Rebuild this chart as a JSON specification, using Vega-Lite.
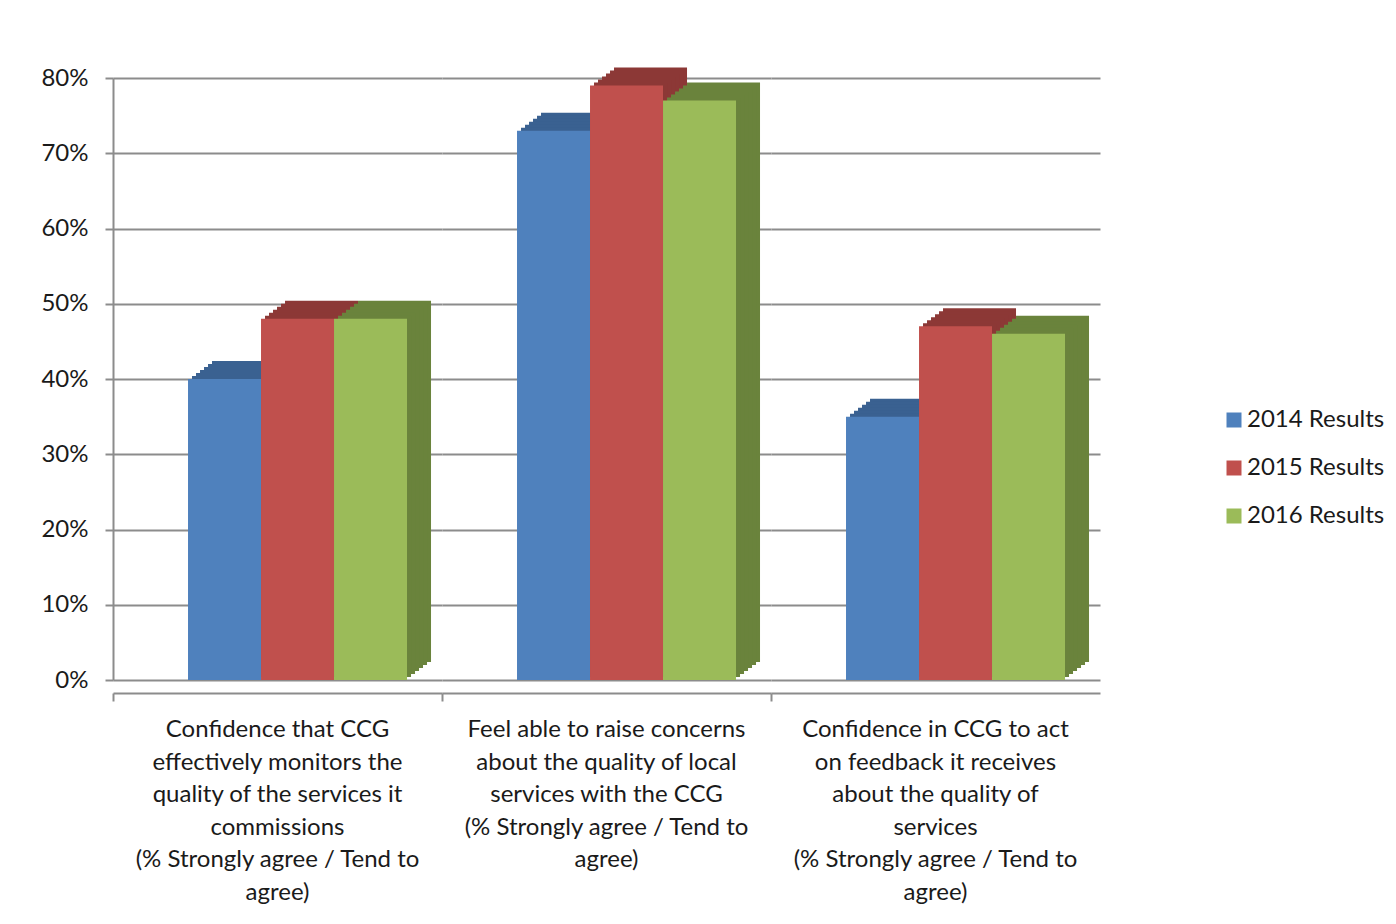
{
  "$schema": "https://vega.github.io/schema/vega-lite/v6.json",
  "autosize": {"type": "pad"},
  "padding": {"left": 40, "top": 66, "right": 0, "bottom": 0},
  "background": "white",
  "config": {
    "view": {"stroke": null},
    "font": "Lato",
    "axis": {"labelColor": "#1a1a1a", "labelFont": "Lato"},
    "legend": {"labelColor": "#1a1a1a", "labelFont": "Lato"},
    "header": {"labelColor": "#1a1a1a", "labelFont": "Lato"}
  },
  "data": {
    "values": [
      {"question": "Confidence that CCG\neffectively monitors the\nquality of the services it\ncommissions\n(% Strongly agree / Tend to\nagree)", "series": "2014 Results", "value": 0.40},
      {"question": "Confidence that CCG\neffectively monitors the\nquality of the services it\ncommissions\n(% Strongly agree / Tend to\nagree)", "series": "2015 Results", "value": 0.48},
      {"question": "Confidence that CCG\neffectively monitors the\nquality of the services it\ncommissions\n(% Strongly agree / Tend to\nagree)", "series": "2016 Results", "value": 0.48},
      {"question": "Feel able to raise concerns\nabout the quality of local\nservices with the CCG\n(% Strongly agree / Tend to\nagree)", "series": "2014 Results", "value": 0.73},
      {"question": "Feel able to raise concerns\nabout the quality of local\nservices with the CCG\n(% Strongly agree / Tend to\nagree)", "series": "2015 Results", "value": 0.79},
      {"question": "Feel able to raise concerns\nabout the quality of local\nservices with the CCG\n(% Strongly agree / Tend to\nagree)", "series": "2016 Results", "value": 0.77},
      {"question": "Confidence in CCG to act\non feedback it receives\nabout the quality of\nservices\n(% Strongly agree / Tend to\nagree)", "series": "2014 Results", "value": 0.35},
      {"question": "Confidence in CCG to act\non feedback it receives\nabout the quality of\nservices\n(% Strongly agree / Tend to\nagree)", "series": "2015 Results", "value": 0.47},
      {"question": "Confidence in CCG to act\non feedback it receives\nabout the quality of\nservices\n(% Strongly agree / Tend to\nagree)", "series": "2016 Results", "value": 0.46}
    ]
  },
  "facet": {
    "column": {
      "field": "question",
      "type": "nominal",
      "sort": [
        "Confidence that CCG\neffectively monitors the\nquality of the services it\ncommissions\n(% Strongly agree / Tend to\nagree)",
        "Feel able to raise concerns\nabout the quality of local\nservices with the CCG\n(% Strongly agree / Tend to\nagree)",
        "Confidence in CCG to act\non feedback it receives\nabout the quality of\nservices\n(% Strongly agree / Tend to\nagree)"
      ],
      "header": {
        "title": null,
        "labelOrient": "bottom",
        "labelExpr": "split(datum.label, '\\n')",
        "labelFontSize": 24,
        "labelLineHeight": 32.6,
        "labelPadding": 16,
        "labelLimit": 0,
        "labelBaseline": "top"
      }
    }
  },
  "spacing": {"column": 0},
  "spec": {
    "width": 329,
    "height": 602,
    "encoding": {
      "x": {
        "field": "series",
        "type": "nominal",
        "sort": null,
        "scale": {"paddingInner": 0, "paddingOuter": 0.7534, "align": 0.682},
        "axis": {
          "title": null,
          "labels": false,
          "values": ["2014 Results"],
          "bandPosition": 0,
          "tickOffset": -75,
          "offset": 13,
          "tickSize": 8,
          "tickWidth": 2,
          "tickColor": "#8c8c8c",
          "domainColor": "#8c8c8c",
          "domainWidth": 2,
          "grid": false
        }
      },
      "y": {
        "field": "value",
        "type": "quantitative",
        "scale": {"domain": [0, 0.8], "nice": false},
        "axis": {
          "title": null,
          "values": [0, 0.1, 0.2, 0.3, 0.4, 0.5, 0.6, 0.7, 0.8],
          "format": ".0%",
          "tickSize": 8,
          "tickWidth": 2,
          "tickColor": "#8c8c8c",
          "domainColor": "#8c8c8c",
          "domainWidth": 2,
          "labelPadding": 17,
          "labelFontSize": 24,
          "grid": true,
          "gridColor": "#8c8c8c",
          "gridWidth": 2
        }
      }
    },
    "layer": [
      {"mark": {"type": "bar", "xOffset": 24, "yOffset": -18}, "encoding": {"fill": {"field": "series", "type": "nominal", "sort": null, "scale": {"range": ["#3a6191", "#8c3836", "#6a833c"]}, "legend": null}}},
      {"mark": {"type": "bar", "xOffset": 20, "yOffset": -15}, "encoding": {"fill": {"field": "series", "type": "nominal", "sort": null, "legend": null}}},
      {"mark": {"type": "bar", "xOffset": 16, "yOffset": -12}, "encoding": {"fill": {"field": "series", "type": "nominal", "sort": null, "legend": null}}},
      {"mark": {"type": "bar", "xOffset": 12, "yOffset": -9}, "encoding": {"fill": {"field": "series", "type": "nominal", "sort": null, "legend": null}}},
      {"mark": {"type": "bar", "xOffset": 8, "yOffset": -6}, "encoding": {"fill": {"field": "series", "type": "nominal", "sort": null, "legend": null}}},
      {"mark": {"type": "bar", "xOffset": 4, "yOffset": -3}, "encoding": {"fill": {"field": "series", "type": "nominal", "sort": null, "legend": null}}},
      {
        "mark": {"type": "bar"},
        "encoding": {
          "color": {
            "field": "series",
            "type": "nominal",
            "sort": null,
            "scale": {"range": ["#4f81bd", "#c0504d", "#9bbb59"]},
            "legend": {
              "title": null,
              "orient": "none",
              "legendX": 1109,
              "legendY": 330,
              "symbolType": "square",
              "symbolSize": 225,
              "symbolStrokeWidth": 0,
              "labelFontSize": 24,
              "labelOffset": 1,
              "rowPadding": 24
            }
          }
        }
      }
    ]
  }
}
